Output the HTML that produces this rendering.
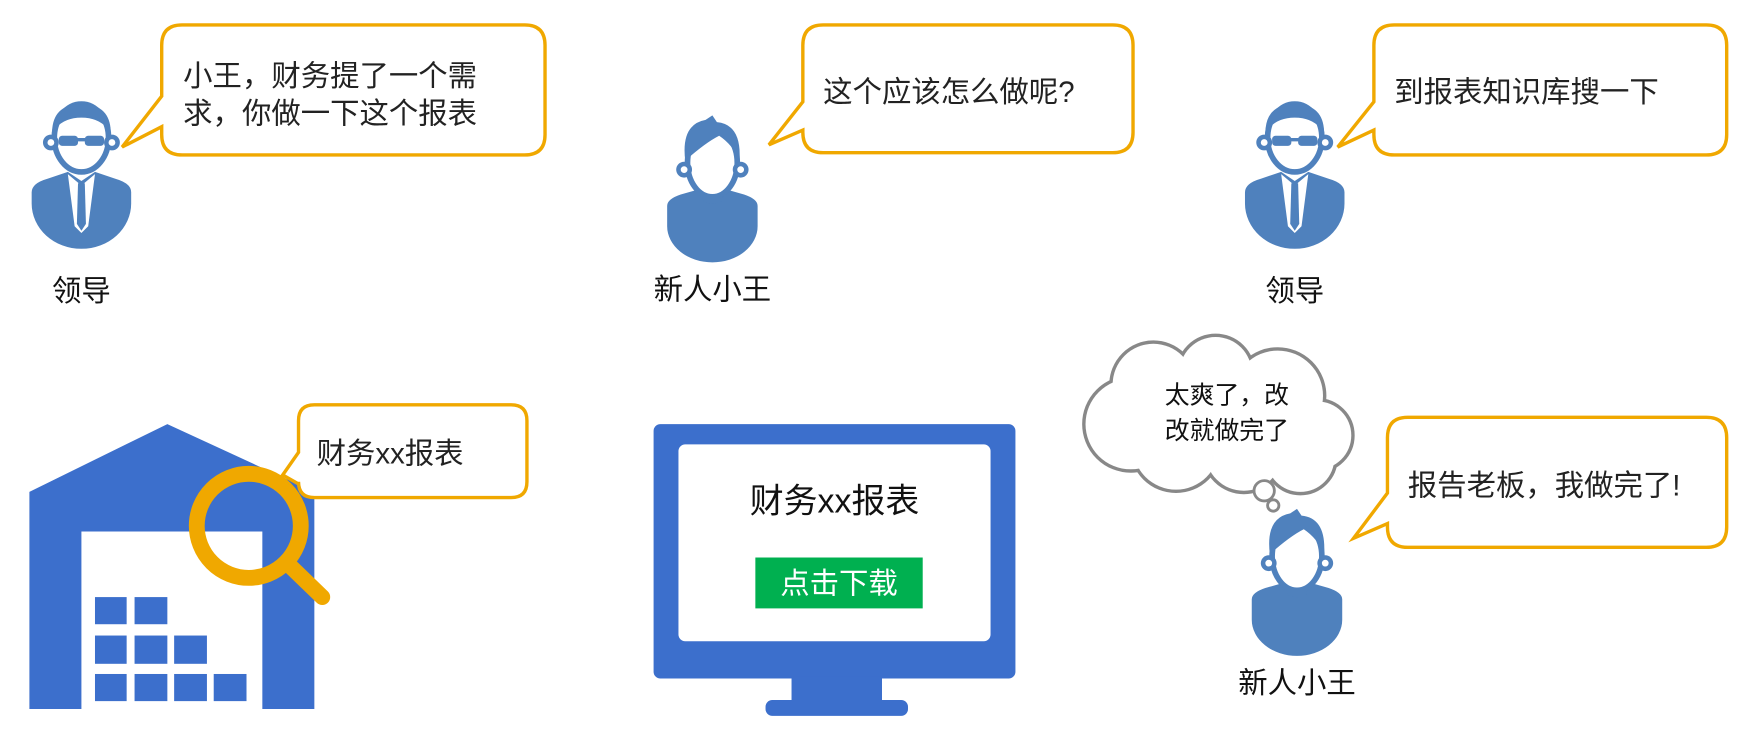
<!DOCTYPE html>
<html><head><meta charset="utf-8"><style>html,body{margin:0;padding:0;background:#fff}svg{display:block}</style></head>
<body>
<svg width="1764" height="743" viewBox="0 0 1560 657" xmlns="http://www.w3.org/2000/svg" font-family="Liberation Sans, Noto Sans CJK SC, sans-serif">
<defs>
<g id="leader">
  <path d="M-44,40 Q-44,32 -30,28 L-12,22 L0,30 L12,22 L30,28 Q44,32 44,40 L44,50 A44,40 0 0 1 -44,50 Z" fill="#4F81BD"/>
  <path d="M-12,24 L0,34 L12,24 L6,70 L0,76 L-6,70 Z" fill="#fff"/>
  <path d="M-3,32 L3,32 L4,68 L0,74 L-4,68 Z" fill="#4F81BD"/>
  <ellipse cx="0" cy="-8" rx="24" ry="30" fill="#fff" stroke="#4F81BD" stroke-width="5"/>
  <path d="M-26,-12 Q-26,-38 0,-38 Q26,-38 26,-12 Q18,-26 0,-26 Q-18,-26 -26,-12Z" fill="#4F81BD"/>
  <rect x="-20" y="-10" width="17" height="9" rx="3" fill="#4F81BD"/><rect x="3" y="-10" width="17" height="9" rx="3" fill="#4F81BD"/><rect x="-4" y="-8" width="8" height="3" fill="#4F81BD"/>
  <circle cx="-27" cy="-4" r="5" fill="#fff" stroke="#4F81BD" stroke-width="4"/><circle cx="27" cy="-4" r="5" fill="#fff" stroke="#4F81BD" stroke-width="4"/>
</g>
<g id="newbie">
  <path d="M-40,32 Q-40,26 -28,22 L-14,18 Q0,30 14,18 L28,22 Q40,26 40,32 L40,50 A40,32 0 0 1 -40,50 Z" fill="#4F81BD"/>
  <ellipse cx="0" cy="-6" rx="22" ry="30" fill="#fff" stroke="#4F81BD" stroke-width="5"/>
  <path d="M-24,-8 Q-28,-40 -6,-44 L0,-48 L4,-42 Q26,-40 24,-8 Q18,-22 6,-30 Q-6,-24 -24,-8Z" fill="#4F81BD"/>
  <path d="M-10,18 Q0,28 10,18 L8,28 Q0,32 -8,28Z" fill="#4F81BD"/>
  <circle cx="-25" cy="0" r="5" fill="#fff" stroke="#4F81BD" stroke-width="4"/><circle cx="25" cy="0" r="5" fill="#fff" stroke="#4F81BD" stroke-width="4"/>
</g>
</defs>

<use href="#leader" x="72" y="130"/>
<text x="72" y="266" font-size="26" text-anchor="middle" fill="#111">领导</text>
<path d="M161,22 H464 Q482,22 482,40 V119 Q482,137 464,137 H161 Q143,137 143,119 V112 L108,130 L143,85 V40 Q143,22 161,22Z" fill="#fff" stroke="#F0A800" stroke-width="3"/>
<text x="162" y="76" font-size="26" fill="#222">小王，财务提了一个需</text>
<text x="162" y="109" font-size="26" fill="#222">求，你做一下这个报表</text>

<use href="#newbie" x="630" y="150"/>
<text x="630" y="265" font-size="26" text-anchor="middle" fill="#111">新人小王</text>
<path d="M728,22 H984 Q1002,22 1002,40 V117 Q1002,135 984,135 H728 Q710,135 710,117 V115 L680,128 L710,90 V40 Q710,22 728,22Z" fill="#fff" stroke="#F0A800" stroke-width="3"/>
<text x="728" y="90" font-size="26" fill="#222">这个应该怎么做呢?</text>

<use href="#leader" x="1145" y="130"/>
<text x="1145" y="266" font-size="26" text-anchor="middle" fill="#111">领导</text>
<path d="M1233,22 H1509 Q1527,22 1527,40 V119 Q1527,137 1509,137 H1233 Q1215,137 1215,119 V115 L1183,130 L1215,90 V40 Q1215,22 1233,22Z" fill="#fff" stroke="#F0A800" stroke-width="3"/>
<text x="1233" y="90" font-size="26" fill="#222">到报表知识库搜一下</text>

<path d="M26,435 L148,375 L278,435 V627 H26Z" fill="#3C6FCC"/>
<rect x="72" y="470" width="160" height="157" fill="#fff"/>
<g fill="#3C6FCC">
<rect x="84" y="528" width="28" height="24"/><rect x="119" y="528" width="29" height="24"/>
<rect x="84" y="562" width="28" height="25"/><rect x="119" y="562" width="29" height="25"/><rect x="154" y="562" width="29" height="25"/>
<rect x="84" y="596" width="28" height="24"/><rect x="119" y="596" width="29" height="24"/><rect x="154" y="596" width="29" height="24"/><rect x="189" y="596" width="29" height="24"/>
</g>
<circle cx="220" cy="465" r="46" fill="none" stroke="#F0A800" stroke-width="14"/>
<line x1="254" y1="498" x2="285" y2="528" stroke="#F0A800" stroke-width="14" stroke-linecap="round"/>
<path d="M278,358 H452 Q466,358 466,372 V426 Q466,440 452,440 H278 Q264,440 264,426 V428 L250,420 L264,400 V372 Q264,358 278,358Z" fill="#fff" stroke="#F0A800" stroke-width="3"/>
<text x="280" y="410" font-size="26" fill="#222">财务xx报表</text>

<rect x="578" y="375" width="320" height="225" rx="6" fill="#3C6FCC"/>
<rect x="600" y="393" width="276" height="174" rx="6" fill="#fff"/>
<rect x="700" y="598" width="80" height="24" fill="#3C6FCC"/>
<rect x="677" y="619" width="126" height="14" rx="6" fill="#3C6FCC"/>
<text x="738" y="453" font-size="30" text-anchor="middle" fill="#111">财务xx报表</text>
<rect x="668" y="493" width="148" height="45" fill="#00B050"/>
<text x="742" y="525" font-size="26" text-anchor="middle" fill="#fff">点击下载</text>

<g stroke="#888" stroke-width="6" fill="#fff">
<circle cx="1020" cy="340" r="36"/><circle cx="1075" cy="330" r="32"/><circle cx="1130" cy="350" r="40"/>
<circle cx="1165" cy="385" r="30"/><circle cx="1000" cy="375" r="40"/><circle cx="1040" cy="395" r="38"/><circle cx="1100" cy="400" r="34"/><circle cx="1150" cy="405" r="30"/>
</g>
<g fill="#fff">
<circle cx="1020" cy="340" r="36"/><circle cx="1075" cy="330" r="32"/><circle cx="1130" cy="350" r="40"/>
<circle cx="1165" cy="385" r="30"/><circle cx="1000" cy="375" r="40"/><circle cx="1040" cy="395" r="38"/><circle cx="1100" cy="400" r="34"/><circle cx="1150" cy="405" r="30"/>
<ellipse cx="1080" cy="370" rx="80" ry="45"/>
</g>
<circle cx="1118" cy="434" r="9" fill="#fff" stroke="#888" stroke-width="2.5"/>
<circle cx="1126" cy="447" r="5" fill="#fff" stroke="#888" stroke-width="2.5"/>
<text x="1085" y="357" font-size="22" text-anchor="middle" fill="#111">太爽了，改</text>
<text x="1085" y="388" font-size="22" text-anchor="middle" fill="#111">改就做完了</text>

<path d="M1245,369 H1509 Q1527,369 1527,387 V466 Q1527,484 1509,484 H1245 Q1227,484 1227,466 V463 L1197,476 L1227,436 V387 Q1227,369 1245,369Z" fill="#fff" stroke="#F0A800" stroke-width="3"/>
<text x="1245" y="438" font-size="26" fill="#222">报告老板，我做完了!</text>

<use href="#newbie" x="1147" y="498"/>
<text x="1147" y="613" font-size="26" text-anchor="middle" fill="#111">新人小王</text>
</svg>
</body></html>
